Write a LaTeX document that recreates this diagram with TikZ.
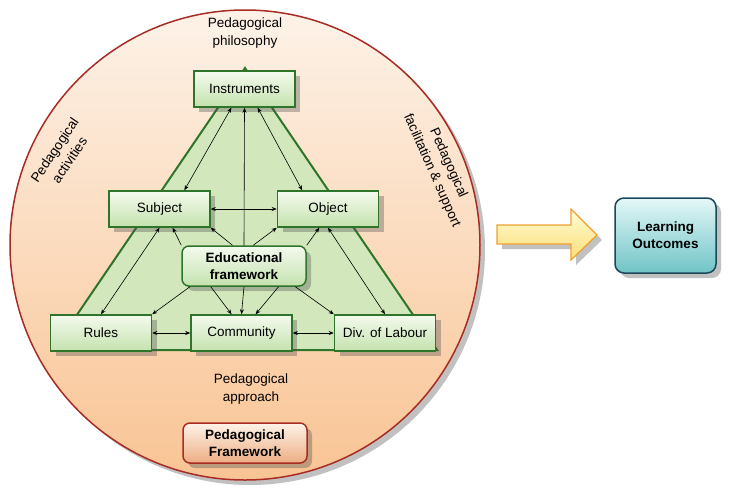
\documentclass[tikz,border=0pt]{standalone}
\usepackage{fontspec}
\setmainfont{Liberation Sans}
\usepackage{tikz}
\usetikzlibrary{arrows.meta,calc,positioning,shadows}
\definecolor{ringred}{RGB}{168,44,36}
\definecolor{peachtop}{RGB}{253,242,232}
\definecolor{peachbot}{RGB}{249,196,148}
\definecolor{leafgreen}{RGB}{46,116,42}
\definecolor{trifill}{RGB}{210,232,188}
\definecolor{boxtop}{RGB}{244,250,238}
\definecolor{boxbot}{RGB}{196,226,174}
\definecolor{tealtop}{RGB}{228,247,247}
\definecolor{tealbot}{RGB}{112,196,198}
\definecolor{tealline}{RGB}{28,70,90}
\definecolor{suntop}{RGB}{255,252,214}
\definecolor{sunbot}{RGB}{250,222,118}
\definecolor{sunline}{RGB}{238,160,48}

\begin{document}
\begin{tikzpicture}[x=1pt,y=-1pt,>={Stealth[length=5pt,width=4pt]},
  font=\fontsize{13.5}{18}\selectfont,
  boxshadow/.style={drop shadow={shadow xshift=5pt,shadow yshift=-5pt,opacity=.35,fill=black!70}},
  act/.style={draw=leafgreen,line width=1.5pt,top color=boxtop,bottom color=boxbot,minimum width=101pt,minimum height=36pt,inner sep=2pt,boxshadow},
  core/.style={act,rounded corners=7pt,minimum width=124pt,minimum height=40pt,align=center,font=\fontsize{13.5}{17}\selectfont\bfseries},
  pedbox/.style={core,draw=ringred,top color=peachtop,bottom color=peachbot!85!ringred},
  outbox/.style={core,draw=tealline,top color=tealtop,bottom color=tealbot,minimum width=101pt,minimum height=75pt,rounded corners=9pt},
  lbl/.style={align=center,inner sep=1pt},
  arr/.style={<->,line width=.6pt},
  one/.style={->,line width=.6pt}]
\useasboundingbox (0,0) rectangle (732,499);
\draw[ringred,line width=1.5pt,top color=peachtop,bottom color=peachbot,boxshadow] (245,245) circle[radius=235pt];
\draw[leafgreen,line width=2pt,fill=trifill] (245,68) -- (53,350) -- (437,350) -- cycle;
\node[lbl] (phil) at (245,33) {Pedagogical\\philosophy};
\node[lbl,rotate=56] (actv) at (62,155) {Pedagogical\\activities};
\node[lbl,rotate=-66] (facil) at (440,167) {Pedagogical\\facilitation \& support};
\node[lbl] (appr) at (251,389) {Pedagogical\\approach};
\node[act] (instr) at (244.5,89) {Instruments};
\node[act] (subj) at (159.5,209) {Subject};
\node[act,right=66pt of subj] (obj) {Object};
\node[core] (edu) at (244,266) {Educational\\framework};
\node[act] (comm) at (241.5,333) {Community};
\node[act,left=38pt of comm] (rules) {Rules};
\node[act,right=41pt of comm] (div) {Div. of Labour};
\node[pedbox] (ped) at (245,443) {Pedagogical\\Framework};
\node[outbox] (learn) at (665.5,235.5) {Learning\\Outcomes};
\draw[sunline,line width=1.2pt,top color=suntop,bottom color=sunbot,boxshadow] (497,225) -- (571,225) -- (571,209) -- (597,235) -- (571,260) -- (571,244) -- (497,244) -- cycle;
\draw[arr] (instr.-125) -- (subj.37);
\draw[arr] (instr.-55) -- (obj.144);
\draw[arr] (subj.east) -- (obj.west);
\draw[arr] (subj.south) -- (rules.north);
\draw[arr] (obj.south) -- (div.north);
\draw[arr] (rules.east) -- (comm.west);
\draw[arr] (comm.east) -- (div.west);
\draw[one] (edu.north) -- (instr.south);
\draw[one] (edu.north west) -- (subj.-55);
\draw[one] (edu.119) -- (subj.south east);
\draw[one] (edu.66) -- (obj.south west);
\draw[one] (edu.north east) -- (obj.-115);
\draw[one] (edu.-159) -- (rules.north east);
\draw[one] (edu.-148) -- (comm.118);
\draw[one] (edu.south) -- (comm.north);
\draw[one] (edu.-31) -- (comm.53);
\draw[one] (edu.-22) -- (div.north west);
\end{tikzpicture}
\end{document}
